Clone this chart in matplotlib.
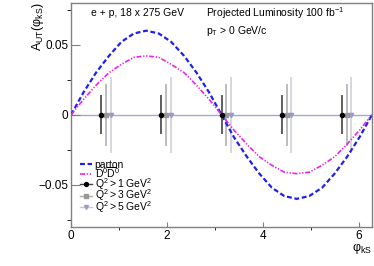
import numpy as np
import matplotlib.pyplot as plt
from matplotlib.lines import Line2D

plt.rcParams['font.family'] = ['Liberation Sans', 'DejaVu Sans']
plt.rcParams['mathtext.fontset'] = 'custom'
plt.rcParams['mathtext.rm'] = 'Liberation Sans'
plt.rcParams['mathtext.it'] = 'Liberation Sans:italic'

# theory curves
phi_curve = [0.00, 0.26, 0.52, 0.79, 1.05, 1.31, 1.57, 1.83, 2.09, 2.36, 2.62, 2.88, 3.14,
             3.40, 3.67, 3.93, 4.19, 4.45, 4.71, 4.97, 5.24, 5.50, 5.76, 6.02, 6.28]
a_parton = [0.000, 0.016, 0.030, 0.042, 0.052, 0.058, 0.060, 0.058, 0.052, 0.042, 0.030, 0.016, 0.000,
            -0.016, -0.030, -0.042, -0.052, -0.058, -0.060, -0.058, -0.052, -0.042, -0.030, -0.016, 0.000]
a_ddbar = [0.000, 0.011, 0.021, 0.030, 0.036, 0.041, 0.042, 0.041, 0.036, 0.030, 0.021, 0.011, 0.000,
           -0.011, -0.021, -0.030, -0.036, -0.041, -0.042, -0.041, -0.036, -0.030, -0.021, -0.011, 0.000]

# projected points
phi_bins = [0.63, 1.88, 3.14, 4.40, 5.65]
a_q1 = [0.0, 0.0, 0.0, 0.0, 0.0]
a_q3 = [0.0, 0.0, 0.0, 0.0, 0.0]
a_q5 = [0.0, 0.0, 0.0, 0.0, 0.0]
err_q1 = [0.014, 0.014, 0.014, 0.014, 0.014]
err_q3 = [0.022, 0.022, 0.022, 0.022, 0.022]
err_q5 = [0.027, 0.027, 0.027, 0.027, 0.027]

fig = plt.figure(figsize=(3.74, 2.66), dpi=100)
ax = fig.add_axes([0.190, 0.147, 0.805, 0.843])

ax.axhline(0, color='#a8a8cc', lw=1, zorder=1)

ax.plot(phi_curve, a_parton, color='#2020ee', lw=1.6, dashes=(2.2, 1.2), zorder=4)
ax.plot(phi_curve, a_ddbar, color='#ee22ee', lw=1.2, dashes=(3, 1, 0.8, 1, 0.8, 1), zorder=4)

x = np.array(phi_bins)
ax.errorbar(x, a_q1, yerr=err_q1, fmt='o', ms=3, color='black', ecolor='#444444',
            elinewidth=1.2, capsize=0, zorder=5)
ax.errorbar(x + 0.1, a_q3, yerr=err_q3, fmt='s', ms=2.8, color='#999999', ecolor='#b0b0b0',
            elinewidth=1.2, capsize=0, zorder=3)
ax.errorbar(x + 0.2, a_q5, yerr=err_q5, fmt='v', ms=3, color='#9a9ac8', ecolor='#d0d0d8',
            elinewidth=1.2, capsize=0, zorder=2)

ax.set_xlim(0, 2 * np.pi)
ax.set_ylim(-0.08, 0.08)
ax.set_xticks([0, 2, 4, 6])
ax.set_xticks([1, 3, 5], minor=True)
ax.set_yticks([-0.05, 0, 0.05])
ax.set_yticks([-0.075, -0.025, 0.025, 0.075], minor=True)
ax.set_yticklabels(['\u22120.05', '0', '0.05'])
ax.tick_params(axis='both', direction='in', labelsize=8.5, color='#808080')
ax.tick_params(axis='x', which='major', length=3.6, pad=2.5)
ax.tick_params(axis='x', which='minor', length=1.8)
ax.tick_params(axis='y', which='major', length=6.5, pad=2)
ax.tick_params(axis='y', which='minor', length=2.9)
for s in ax.spines.values():
    s.set_color('#808080')
    s.set_linewidth(1)

ax.text(0.066, 0.955, 'e + p, 18 x 275 GeV', transform=ax.transAxes, fontsize=7.5, va='center')
ax.text(0.447, 0.955, r'Projected Luminosity 100 fb$^{-1}$', transform=ax.transAxes, fontsize=7.5, va='center')
ax.text(0.447, 0.875, r'$\mathrm{p_T}$ > 0 GeV/c', transform=ax.transAxes, fontsize=7.5, va='center')

fig.text(38 / 374, 1 - 2 / 266, r'$\mathrm{A_{UT}(φ_{kS})}$', rotation=90, ha='center', va='top', fontsize=9)
fig.text(372 / 374, 1 - 242 / 266, r'$\mathrm{φ_{kS}}$', ha='right', va='top', fontsize=9)

handles = [
    Line2D([], [], color='#2020ee', lw=1.6, dashes=(2.2, 1.2)),
    Line2D([], [], color='#ee22ee', lw=1.2, dashes=(3, 1, 0.8, 1, 0.8, 1)),
    Line2D([], [], color='#444444', lw=1, marker='o', ms=2.8, mfc='black', mec='black'),
    Line2D([], [], color='#b0b0b0', lw=1, marker='s', ms=2.5, mfc='#999999', mec='#999999'),
    Line2D([], [], color='#c8c8d8', lw=1, marker='v', ms=2.8, mfc='#9a9ac8', mec='#9a9ac8'),
]
labels = ['parton', r'$\mathrm{D^0\overline{D}^0}$', r'$\mathrm{Q^2 > 1\ GeV^2}$',
          r'$\mathrm{Q^2 > 3\ GeV^2}$', r'$\mathrm{Q^2 > 5\ GeV^2}$']
ax.legend(handles, labels, loc='upper left', bbox_to_anchor=(0.03, 0.30), frameon=False, fontsize=7.5,
          handlelength=1.15, handletextpad=0.25, labelspacing=-0.4, borderpad=0, borderaxespad=0)

fig.savefig('out.png', dpi=100)
